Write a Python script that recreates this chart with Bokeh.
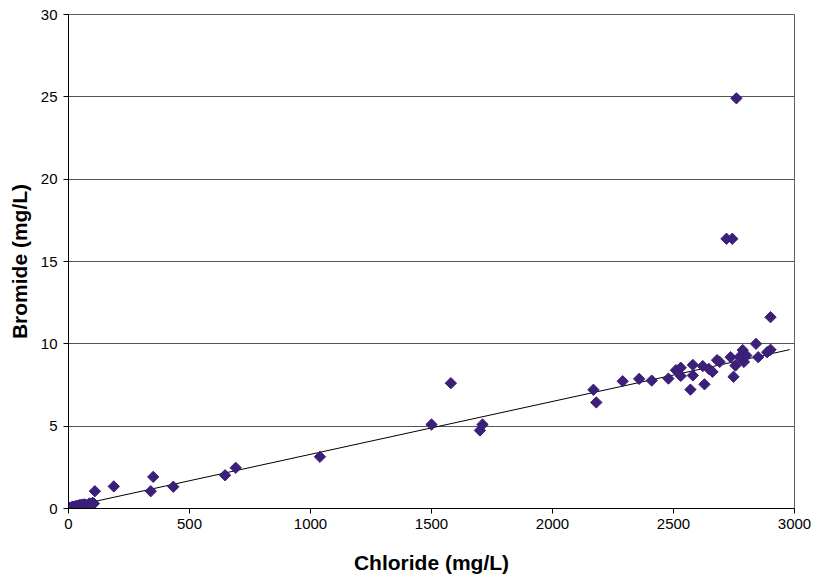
import numpy as np
from bokeh.plotting import figure
from bokeh.models import FixedTicker, Range1d
from bokeh.embed import file_html
from bokeh.resources import INLINE

# Chloride (mg/L)
chloride = [0, 3, 6, 9, 12, 15, 18, 22, 26, 30, 35, 40, 45, 50, 55, 60, 66, 72, 78, 84, 90, 95, 100, 105,
            109, 187, 340, 350, 433, 647, 691, 1039,
            1500, 1580, 1700, 1711,
            2169, 2181, 2290, 2358, 2410, 2479, 2510, 2530, 2530, 2570, 2580, 2580,
            2621, 2628, 2646, 2661, 2680, 2691, 2736, 2748, 2756, 2772, 2786, 2791, 2801,
            2841, 2850, 2887, 2901,
            2719, 2743, 2760, 2901]
# Bromide (mg/L)
bromide = [0.0, 0.02, 0.04, 0.05, 0.07, 0.08, 0.1, 0.1, 0.12, 0.14, 0.15, 0.18, 0.2, 0.2, 0.22, 0.24, 0.25, 0.22, 0.2, 0.28, 0.3, 0.25, 0.35, 0.3,
           1.05, 1.34, 1.05, 1.92, 1.32, 2.02, 2.47, 3.14,
           5.10, 7.61, 4.74, 5.10,
           7.21, 6.44, 7.73, 7.87, 7.77, 7.89, 8.40, 8.55, 8.05, 7.22, 8.72, 8.08,
           8.65, 7.54, 8.48, 8.30, 9.01, 8.90, 9.19, 8.00, 8.68, 9.19, 9.62, 8.90, 9.29,
           10.0, 9.19, 9.49, 9.64,
           16.38, 16.38, 24.91, 11.62]

# Linear trendline parameters
trend_slope = 0.00321
trend_intercept = 0.08
trend_x = [0, 2980]
trend_y = [trend_intercept + trend_slope * v for v in trend_x]

x_ticks = [0, 500, 1000, 1500, 2000, 2500, 3000]
y_ticks = [0, 5, 10, 15, 20, 25, 30]

p = figure(width=813, height=581, output_backend="svg", toolbar_location=None,
           x_range=Range1d(0, 3000), y_range=Range1d(0, 30),
           min_border_left=68, min_border_right=19, min_border_top=14, min_border_bottom=73)

p.background_fill_color = "white"
p.border_fill_color = "white"
p.outline_line_color = "#606060"
p.outline_line_width = 1

p.xgrid.grid_line_color = None
p.ygrid.grid_line_color = "#555555"
p.ygrid.grid_line_width = 1

p.line(trend_x, trend_y, line_color="black", line_width=1)
p.scatter(chloride, bromide, marker="square", size=8, angle=np.pi / 4,
          fill_color="#3B1F78", line_color="#3B1F78")

for ax in (p.xaxis, p.yaxis):
    ax.axis_line_color = "black"
    ax.axis_line_width = 1
    ax.major_tick_line_color = "black"
    ax.major_tick_out = 5
    ax.major_tick_in = 0
    ax.minor_tick_line_color = None
    ax.major_label_text_font = "Liberation Sans"
    ax.major_label_text_font_size = "15px"
    ax.major_label_text_color = "black"
    ax.axis_label_text_font = "Liberation Sans"
    ax.axis_label_text_font_size = "21px"
    ax.axis_label_text_font_style = "bold"
    ax.axis_label_text_color = "black"

p.xaxis.ticker = FixedTicker(ticks=x_ticks)
p.yaxis.ticker = FixedTicker(ticks=y_ticks)
p.xaxis.axis_label = "Chloride (mg/L)"
p.yaxis.axis_label = "Bromide (mg/L)"
p.xaxis.major_label_standoff = 5
p.yaxis.major_label_standoff = 6
p.xaxis.axis_label_standoff = 19
p.yaxis.axis_label_standoff = 7

open("out.html", "w").write(file_html(p, INLINE))
